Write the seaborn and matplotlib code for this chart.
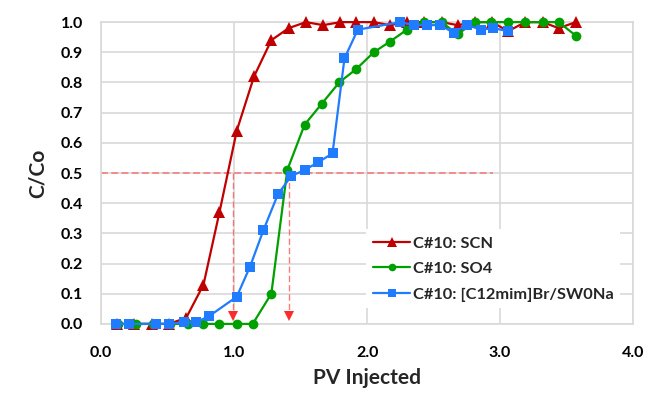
import matplotlib
matplotlib.use("Agg")
import matplotlib.pyplot as plt
import seaborn as sns
import pandas as pd

# Breakthrough curves: normalised concentration vs pore volumes injected
scn_pv = [0.12, 0.25, 0.38, 0.51, 0.64, 0.77, 0.89, 1.02, 1.15, 1.28, 1.41, 1.54, 1.67, 1.80,
          1.92, 2.05, 2.17, 2.30, 2.43, 2.56, 2.68, 2.81, 2.94, 3.06, 3.19, 3.32, 3.44, 3.57]
scn_c = [0.0, 0.0, 0.0, 0.0, 0.02, 0.13, 0.37, 0.64, 0.82, 0.94, 0.98, 1.0, 0.99, 1.0,
         1.0, 1.0, 0.99, 1.0, 1.0, 1.0, 0.99, 1.0, 1.0, 0.97, 1.0, 1.0, 0.98, 1.0]

so4_pv = [0.13, 0.26, 0.39, 0.52, 0.65, 0.77, 0.89, 1.02, 1.14, 1.28, 1.40, 1.53, 1.66, 1.79,
          1.92, 2.05, 2.17, 2.30, 2.43, 2.56, 2.68, 2.81, 2.93, 3.06, 3.19, 3.32, 3.44, 3.57]
so4_c = [0.0, 0.0, 0.0, 0.0, 0.0, 0.0, 0.0, 0.0, 0.0, 0.10, 0.51, 0.66, 0.73, 0.80,
         0.845, 0.90, 0.935, 0.975, 1.0, 1.0, 0.96, 1.0, 1.0, 1.0, 1.0, 1.0, 1.0, 0.955]

il_pv = [0.11, 0.21, 0.41, 0.51, 0.62, 0.71, 0.81, 1.02, 1.12, 1.22, 1.33, 1.43, 1.53, 1.63,
         1.74, 1.83, 1.93, 2.25, 2.35, 2.45, 2.55, 2.65, 2.75, 2.86, 2.95, 3.06]
il_c = [0.0, 0.0, 0.0, 0.0, 0.005, 0.005, 0.025, 0.09, 0.19, 0.31, 0.43, 0.49, 0.51, 0.535,
        0.565, 0.88, 0.975, 1.0, 0.99, 0.99, 0.99, 0.965, 0.99, 0.975, 0.98, 0.97]

series_labels = ["C#10: SCN", "C#10: SO4", "C#10: [C12mim]Br/SW0Na"]
series_colors = ["#C00000", "#00A000", "#1F7BFF"]
series_markers = ["^", "o", "s"]
series_msize = [8.5, 7, 7]

# Half-breakthrough read-off (C/Co = 0.5)
half_level = 0.5
half_pv = [0.99, 1.41]
half_line_end = 2.95

x_ticks = [0.0, 1.0, 2.0, 3.0, 4.0]
y_ticks = [0.0, 0.1, 0.2, 0.3, 0.4, 0.5, 0.6, 0.7, 0.8, 0.9, 1.0]

sns.set_style("white")
plt.rcParams["font.family"] = ["Lato", "DejaVu Sans"]
plt.rcParams["font.weight"] = "bold"

fig = plt.figure(figsize=(6.48, 3.95), dpi=100)
ax = fig.add_axes([0.156, 0.18, 0.821, 0.764])

frames = [
    pd.DataFrame({"pv": scn_pv, "c": scn_c}),
    pd.DataFrame({"pv": so4_pv, "c": so4_c}),
    pd.DataFrame({"pv": il_pv, "c": il_c}),
]
for df, lab, col, mk, ms in zip(frames, series_labels, series_colors, series_markers, series_msize):
    sns.lineplot(data=df, x="pv", y="c", ax=ax, color=col, marker=mk, markersize=ms,
                 markeredgewidth=0, linewidth=1.6, label=lab, clip_on=False, zorder=3)

dash = (0, (4.5, 2.2))
guide_col = "#FF5A5A"
ax.plot([0, half_line_end], [half_level, half_level], color=guide_col, lw=1.1,
        linestyle=dash, alpha=0.8, zorder=2)
for xv in half_pv:
    ax.plot([xv, xv], [half_level, 0.04], color=guide_col, lw=1.0, linestyle=dash,
            alpha=0.8, zorder=2)
    ax.plot([xv], [0.025], marker="v", color="#FF2A2A", markersize=7,
            markeredgewidth=0, linestyle="none", zorder=2)

ax.set_xlim(0, 4)
ax.set_ylim(0, 1)
ax.set_xticks(x_ticks)
ax.set_yticks(y_ticks)
ax.set_xticklabels([f"{v:.1f}" for v in x_ticks])
ax.set_yticklabels([f"{v:.1f}" for v in y_ticks])
ax.tick_params(axis="both", length=0, labelsize=11.5, colors="black")
ax.tick_params(axis="x", pad=16)
ax.tick_params(axis="y", pad=13)
for lbl in ax.get_xticklabels() + ax.get_yticklabels():
    lbl.set_fontweight("bold")

ax.grid(True, color="#D9D9D9", linewidth=1.2)
ax.set_axisbelow(True)
for sp in ax.spines.values():
    sp.set_visible(True)
    sp.set_color("#D9D9D9")
    sp.set_linewidth(1.2)

ax.set_xlabel("PV Injected", fontsize=15, fontweight="bold", labelpad=6)
ax.set_ylabel("C/Co", fontsize=15, fontweight="bold", labelpad=9)

leg = ax.legend(loc="upper left", bbox_to_anchor=(0.483, 0.34), frameon=True,
                fontsize=11.8, handlelength=2.3, handletextpad=0.15, labelspacing=0.68,
                borderpad=0.4, fancybox=False)
leg.get_frame().set_edgecolor("none")
leg.get_frame().set_facecolor("white")
leg.get_frame().set_alpha(1.0)
for t in leg.get_texts():
    t.set_fontweight("bold")
for h, ms in zip(leg.legend_handles, [6.5, 5.5, 5.5]):
    h.set_markersize(ms)

fig.savefig("out.png", dpi=100)
